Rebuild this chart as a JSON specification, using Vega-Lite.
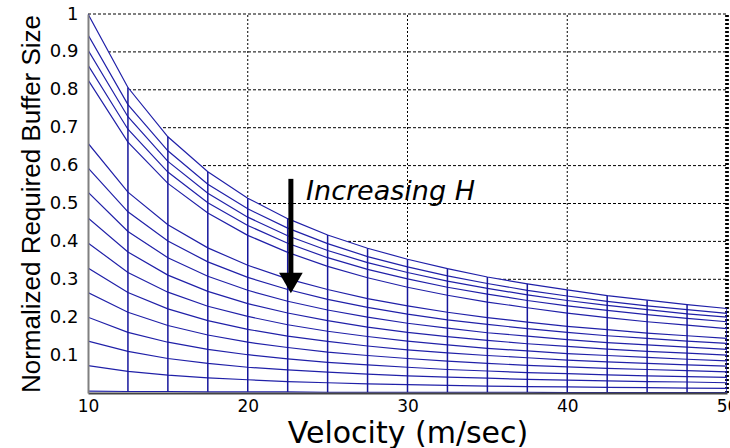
{
  "$schema": "https://vega.github.io/schema/vega-lite/v6.json",
  "autosize": {"type": "none"},
  "padding": {"left": 88, "top": 14, "right": 3, "bottom": 55},
  "width": 639,
  "height": 379,
  "background": "white",
  "config": {"view": {"stroke": null}},
  "datasets": {
    "mesh": [
      {"H":1,"v":10,"b":1.000},{"H":1,"v":12.5,"b":0.806},{"H":1,"v":15,"b":0.676},{"H":1,"v":17.5,"b":0.584},{"H":1,"v":20,"b":0.514},{"H":1,"v":22.5,"b":0.460},{"H":1,"v":25,"b":0.417},{"H":1,"v":27.5,"b":0.382},{"H":1,"v":30,"b":0.353},{"H":1,"v":32.5,"b":0.328},{"H":1,"v":35,"b":0.306},{"H":1,"v":37.5,"b":0.288},{"H":1,"v":40,"b":0.272},{"H":1,"v":42.5,"b":0.257},{"H":1,"v":45,"b":0.245},{"H":1,"v":47.5,"b":0.233},{"H":1,"v":50,"b":0.223},
      {"H":2,"v":10,"b":0.945},{"H":2,"v":12.5,"b":0.761},{"H":2,"v":15,"b":0.639},{"H":2,"v":17.5,"b":0.551},{"H":2,"v":20,"b":0.486},{"H":2,"v":22.5,"b":0.435},{"H":2,"v":25,"b":0.394},{"H":2,"v":27.5,"b":0.360},{"H":2,"v":30,"b":0.333},{"H":2,"v":32.5,"b":0.309},{"H":2,"v":35,"b":0.289},{"H":2,"v":37.5,"b":0.271},{"H":2,"v":40,"b":0.256},{"H":2,"v":42.5,"b":0.242},{"H":2,"v":45,"b":0.230},{"H":2,"v":47.5,"b":0.220},{"H":2,"v":50,"b":0.210},
      {"H":3,"v":10,"b":0.905},{"H":3,"v":12.5,"b":0.729},{"H":3,"v":15,"b":0.611},{"H":3,"v":17.5,"b":0.527},{"H":3,"v":20,"b":0.464},{"H":3,"v":22.5,"b":0.415},{"H":3,"v":25,"b":0.376},{"H":3,"v":27.5,"b":0.344},{"H":3,"v":30,"b":0.318},{"H":3,"v":32.5,"b":0.295},{"H":3,"v":35,"b":0.276},{"H":3,"v":37.5,"b":0.259},{"H":3,"v":40,"b":0.244},{"H":3,"v":42.5,"b":0.231},{"H":3,"v":45,"b":0.220},{"H":3,"v":47.5,"b":0.209},{"H":3,"v":50,"b":0.200},
      {"H":4,"v":10,"b":0.865},{"H":4,"v":12.5,"b":0.696},{"H":4,"v":15,"b":0.583},{"H":4,"v":17.5,"b":0.502},{"H":4,"v":20,"b":0.442},{"H":4,"v":22.5,"b":0.395},{"H":4,"v":25,"b":0.357},{"H":4,"v":27.5,"b":0.326},{"H":4,"v":30,"b":0.301},{"H":4,"v":32.5,"b":0.279},{"H":4,"v":35,"b":0.261},{"H":4,"v":37.5,"b":0.244},{"H":4,"v":40,"b":0.230},{"H":4,"v":42.5,"b":0.218},{"H":4,"v":45,"b":0.207},{"H":4,"v":47.5,"b":0.197},{"H":4,"v":50,"b":0.188},
      {"H":5,"v":10,"b":0.826},{"H":5,"v":12.5,"b":0.662},{"H":5,"v":15,"b":0.553},{"H":5,"v":17.5,"b":0.475},{"H":5,"v":20,"b":0.416},{"H":5,"v":22.5,"b":0.371},{"H":5,"v":25,"b":0.334},{"H":5,"v":27.5,"b":0.304},{"H":5,"v":30,"b":0.279},{"H":5,"v":32.5,"b":0.258},{"H":5,"v":35,"b":0.240},{"H":5,"v":37.5,"b":0.225},{"H":5,"v":40,"b":0.211},{"H":5,"v":42.5,"b":0.199},{"H":5,"v":45,"b":0.188},{"H":5,"v":47.5,"b":0.179},{"H":5,"v":50,"b":0.170},
      {"H":6,"v":10,"b":0.659},{"H":6,"v":12.5,"b":0.530},{"H":6,"v":15,"b":0.444},{"H":6,"v":17.5,"b":0.383},{"H":6,"v":20,"b":0.337},{"H":6,"v":22.5,"b":0.301},{"H":6,"v":25,"b":0.273},{"H":6,"v":27.5,"b":0.249},{"H":6,"v":30,"b":0.230},{"H":6,"v":32.5,"b":0.213},{"H":6,"v":35,"b":0.199},{"H":6,"v":37.5,"b":0.187},{"H":6,"v":40,"b":0.176},{"H":6,"v":42.5,"b":0.167},{"H":6,"v":45,"b":0.158},{"H":6,"v":47.5,"b":0.151},{"H":6,"v":50,"b":0.144},
      {"H":7,"v":10,"b":0.594},{"H":7,"v":12.5,"b":0.478},{"H":7,"v":15,"b":0.401},{"H":7,"v":17.5,"b":0.346},{"H":7,"v":20,"b":0.305},{"H":7,"v":22.5,"b":0.273},{"H":7,"v":25,"b":0.247},{"H":7,"v":27.5,"b":0.226},{"H":7,"v":30,"b":0.208},{"H":7,"v":32.5,"b":0.193},{"H":7,"v":35,"b":0.181},{"H":7,"v":37.5,"b":0.170},{"H":7,"v":40,"b":0.160},{"H":7,"v":42.5,"b":0.151},{"H":7,"v":45,"b":0.144},{"H":7,"v":47.5,"b":0.137},{"H":7,"v":50,"b":0.131},
      {"H":8,"v":10,"b":0.530},{"H":8,"v":12.5,"b":0.426},{"H":8,"v":15,"b":0.357},{"H":8,"v":17.5,"b":0.308},{"H":8,"v":20,"b":0.271},{"H":8,"v":22.5,"b":0.242},{"H":8,"v":25,"b":0.219},{"H":8,"v":27.5,"b":0.200},{"H":8,"v":30,"b":0.184},{"H":8,"v":32.5,"b":0.171},{"H":8,"v":35,"b":0.159},{"H":8,"v":37.5,"b":0.150},{"H":8,"v":40,"b":0.141},{"H":8,"v":42.5,"b":0.133},{"H":8,"v":45,"b":0.127},{"H":8,"v":47.5,"b":0.121},{"H":8,"v":50,"b":0.115},
      {"H":9,"v":10,"b":0.462},{"H":9,"v":12.5,"b":0.372},{"H":9,"v":15,"b":0.311},{"H":9,"v":17.5,"b":0.268},{"H":9,"v":20,"b":0.236},{"H":9,"v":22.5,"b":0.211},{"H":9,"v":25,"b":0.191},{"H":9,"v":27.5,"b":0.174},{"H":9,"v":30,"b":0.160},{"H":9,"v":32.5,"b":0.149},{"H":9,"v":35,"b":0.139},{"H":9,"v":37.5,"b":0.130},{"H":9,"v":40,"b":0.123},{"H":9,"v":42.5,"b":0.116},{"H":9,"v":45,"b":0.110},{"H":9,"v":47.5,"b":0.105},{"H":9,"v":50,"b":0.100},
      {"H":10,"v":10,"b":0.396},{"H":10,"v":12.5,"b":0.318},{"H":10,"v":15,"b":0.266},{"H":10,"v":17.5,"b":0.229},{"H":10,"v":20,"b":0.202},{"H":10,"v":22.5,"b":0.180},{"H":10,"v":25,"b":0.163},{"H":10,"v":27.5,"b":0.149},{"H":10,"v":30,"b":0.137},{"H":10,"v":32.5,"b":0.127},{"H":10,"v":35,"b":0.118},{"H":10,"v":37.5,"b":0.111},{"H":10,"v":40,"b":0.104},{"H":10,"v":42.5,"b":0.099},{"H":10,"v":45,"b":0.094},{"H":10,"v":47.5,"b":0.089},{"H":10,"v":50,"b":0.085},
      {"H":11,"v":10,"b":0.330},{"H":11,"v":12.5,"b":0.265},{"H":11,"v":15,"b":0.222},{"H":11,"v":17.5,"b":0.191},{"H":11,"v":20,"b":0.168},{"H":11,"v":22.5,"b":0.150},{"H":11,"v":25,"b":0.136},{"H":11,"v":27.5,"b":0.124},{"H":11,"v":30,"b":0.114},{"H":11,"v":32.5,"b":0.106},{"H":11,"v":35,"b":0.099},{"H":11,"v":37.5,"b":0.093},{"H":11,"v":40,"b":0.087},{"H":11,"v":42.5,"b":0.082},{"H":11,"v":45,"b":0.078},{"H":11,"v":47.5,"b":0.074},{"H":11,"v":50,"b":0.071},
      {"H":12,"v":10,"b":0.265},{"H":12,"v":12.5,"b":0.213},{"H":12,"v":15,"b":0.178},{"H":12,"v":17.5,"b":0.153},{"H":12,"v":20,"b":0.134},{"H":12,"v":22.5,"b":0.120},{"H":12,"v":25,"b":0.108},{"H":12,"v":27.5,"b":0.099},{"H":12,"v":30,"b":0.091},{"H":12,"v":32.5,"b":0.084},{"H":12,"v":35,"b":0.078},{"H":12,"v":37.5,"b":0.073},{"H":12,"v":40,"b":0.069},{"H":12,"v":42.5,"b":0.065},{"H":12,"v":45,"b":0.062},{"H":12,"v":47.5,"b":0.059},{"H":12,"v":50,"b":0.056},
      {"H":13,"v":10,"b":0.200},{"H":13,"v":12.5,"b":0.160},{"H":13,"v":15,"b":0.134},{"H":13,"v":17.5,"b":0.115},{"H":13,"v":20,"b":0.101},{"H":13,"v":22.5,"b":0.090},{"H":13,"v":25,"b":0.081},{"H":13,"v":27.5,"b":0.074},{"H":13,"v":30,"b":0.068},{"H":13,"v":32.5,"b":0.062},{"H":13,"v":35,"b":0.058},{"H":13,"v":37.5,"b":0.054},{"H":13,"v":40,"b":0.051},{"H":13,"v":42.5,"b":0.048},{"H":13,"v":45,"b":0.045},{"H":13,"v":47.5,"b":0.043},{"H":13,"v":50,"b":0.041},
      {"H":14,"v":10,"b":0.137},{"H":14,"v":12.5,"b":0.110},{"H":14,"v":15,"b":0.091},{"H":14,"v":17.5,"b":0.078},{"H":14,"v":20,"b":0.068},{"H":14,"v":22.5,"b":0.061},{"H":14,"v":25,"b":0.055},{"H":14,"v":27.5,"b":0.050},{"H":14,"v":30,"b":0.045},{"H":14,"v":32.5,"b":0.042},{"H":14,"v":35,"b":0.039},{"H":14,"v":37.5,"b":0.036},{"H":14,"v":40,"b":0.034},{"H":14,"v":42.5,"b":0.032},{"H":14,"v":45,"b":0.030},{"H":14,"v":47.5,"b":0.029},{"H":14,"v":50,"b":0.027},
      {"H":15,"v":10,"b":0.072},{"H":15,"v":12.5,"b":0.057},{"H":15,"v":15,"b":0.047},{"H":15,"v":17.5,"b":0.040},{"H":15,"v":20,"b":0.035},{"H":15,"v":22.5,"b":0.030},{"H":15,"v":25,"b":0.027},{"H":15,"v":27.5,"b":0.024},{"H":15,"v":30,"b":0.022},{"H":15,"v":32.5,"b":0.020},{"H":15,"v":35,"b":0.018},{"H":15,"v":37.5,"b":0.017},{"H":15,"v":40,"b":0.016},{"H":15,"v":42.5,"b":0.015},{"H":15,"v":45,"b":0.014},{"H":15,"v":47.5,"b":0.013},{"H":15,"v":50,"b":0.012},
      {"H":16,"v":10,"b":0.005},{"H":16,"v":12.5,"b":0.004},{"H":16,"v":15,"b":0.004},{"H":16,"v":17.5,"b":0.003},{"H":16,"v":20,"b":0.003},{"H":16,"v":22.5,"b":0.003},{"H":16,"v":25,"b":0.002},{"H":16,"v":27.5,"b":0.002},{"H":16,"v":30,"b":0.002},{"H":16,"v":32.5,"b":0.002},{"H":16,"v":35,"b":0.002},{"H":16,"v":37.5,"b":0.002},{"H":16,"v":40,"b":0.001},{"H":16,"v":42.5,"b":0.001},{"H":16,"v":45,"b":0.001},{"H":16,"v":47.5,"b":0.001},{"H":16,"v":50,"b":0.001}
    ],
    "gridY": [{"b":0.1},{"b":0.2},{"b":0.3},{"b":0.4},{"b":0.5},{"b":0.6},{"b":0.7},{"b":0.8},{"b":0.9},{"b":1.0}],
    "gridX": [{"v":20},{"v":30},{"v":40}],
    "note": [{"v":22.7,"b":0.565,"b2":0.31,"head":0.29,"tv":23.65,"tb":0.53,"label":"Increasing H"}]
  },
  "layer": [
    {
      "data": {"name": "gridY"},
      "mark": {"type": "rule", "stroke": "black", "strokeWidth": 1, "strokeDash": [3, 2]},
      "encoding": {
        "y": {"field": "b", "type": "quantitative", "title": "Normalized Required Buffer Size",
          "scale": {"domain": [0, 1], "nice": false, "zero": false},
          "axis": {"values": [0.1,0.2,0.3,0.4,0.5,0.6,0.7,0.8,0.9,1], "format": "~g", "grid": false, "ticks": false,
            "zindex": 1, "domainColor": "#808080", "domainWidth": 2,
            "labelFont": "DejaVu Sans", "labelFontSize": 18, "labelColor": "black", "labelPadding": 10,
            "titleFont": "Liberation Sans", "titleFontSize": 26, "titleFontWeight": "normal", "titleColor": "black", "titlePadding": 5}},
        "x": {"datum": 10, "type": "quantitative"},
        "x2": {"datum": 50}
      }
    },
    {
      "data": {"name": "gridX"},
      "mark": {"type": "rule", "stroke": "black", "strokeWidth": 1, "strokeDash": [2, 2]},
      "encoding": {
        "x": {"field": "v", "type": "quantitative", "title": "Velocity (m/sec)",
          "scale": {"domain": [10, 50], "nice": false, "zero": false},
          "axis": {"values": [10,20,30,40,50], "grid": false, "ticks": false, "zindex": 1,
            "domainColor": "#444444", "domainWidth": 2, "labelFlush": false, "labelOverlap": false,
            "labelFont": "DejaVu Sans", "labelFontSize": 17, "labelColor": "black", "labelPadding": 5,
            "titleFont": "DejaVu Sans", "titleFontSize": 30, "titleFontWeight": "normal", "titleColor": "black", "titlePadding": 4}},
        "y": {"datum": 0, "type": "quantitative"},
        "y2": {"datum": 1}
      }
    },
    {
      "data": {"name": "mesh"},
      "transform": [{"filter": "datum.H == 1"}],
      "mark": {"type": "area", "fill": "white", "clip": true},
      "encoding": {
        "x": {"field": "v", "type": "quantitative", "title": "Velocity (m/sec)"},
        "y": {"field": "b", "type": "quantitative", "title": "Normalized Required Buffer Size"}
      }
    },
    {
      "data": {"name": "gridX"},
      "mark": {"type": "rule", "stroke": "black", "strokeWidth": 3, "strokeDash": [2, 2]},
      "encoding": {
        "x": {"datum": 50, "type": "quantitative"},
        "y": {"datum": 0, "type": "quantitative"},
        "y2": {"datum": 1}
      }
    },
    {
      "data": {"name": "mesh"},
      "mark": {"type": "line", "stroke": "#2020a8", "strokeWidth": 1.2, "clip": true},
      "encoding": {
        "x": {"field": "v", "type": "quantitative", "title": "Velocity (m/sec)"},
        "y": {"field": "b", "type": "quantitative", "title": "Normalized Required Buffer Size"},
        "detail": {"field": "H", "type": "nominal"},
        "order": {"field": "v", "type": "quantitative"}
      }
    },
    {
      "data": {"name": "mesh"},
      "mark": {"type": "line", "stroke": "#16169c", "strokeWidth": 1.5, "clip": true},
      "encoding": {
        "x": {"field": "v", "type": "quantitative", "title": "Velocity (m/sec)"},
        "y": {"field": "b", "type": "quantitative", "title": "Normalized Required Buffer Size"},
        "detail": {"field": "v", "type": "nominal"},
        "order": {"field": "b", "type": "quantitative"}
      }
    },
    {
      "data": {"name": "note"},
      "mark": {"type": "rule", "stroke": "black", "strokeWidth": 5},
      "encoding": {
        "x": {"field": "v", "type": "quantitative", "title": "Velocity (m/sec)"},
        "y": {"field": "b", "type": "quantitative", "title": "Normalized Required Buffer Size"},
        "y2": {"field": "b2"}
      }
    },
    {
      "data": {"name": "note"},
      "mark": {"type": "point", "shape": "triangle-down", "size": 560, "filled": true, "fill": "black", "stroke": null, "opacity": 1},
      "encoding": {
        "x": {"field": "v", "type": "quantitative", "title": "Velocity (m/sec)"},
        "y": {"field": "head", "type": "quantitative", "title": "Normalized Required Buffer Size"}
      }
    },
    {
      "data": {"name": "note"},
      "mark": {"type": "text", "font": "DejaVu Sans", "fontStyle": "italic", "fontSize": 27, "align": "left", "baseline": "middle", "color": "black"},
      "encoding": {
        "x": {"field": "tv", "type": "quantitative", "title": "Velocity (m/sec)"},
        "y": {"field": "tb", "type": "quantitative", "title": "Normalized Required Buffer Size"},
        "text": {"field": "label"}
      }
    }
  ]
}
